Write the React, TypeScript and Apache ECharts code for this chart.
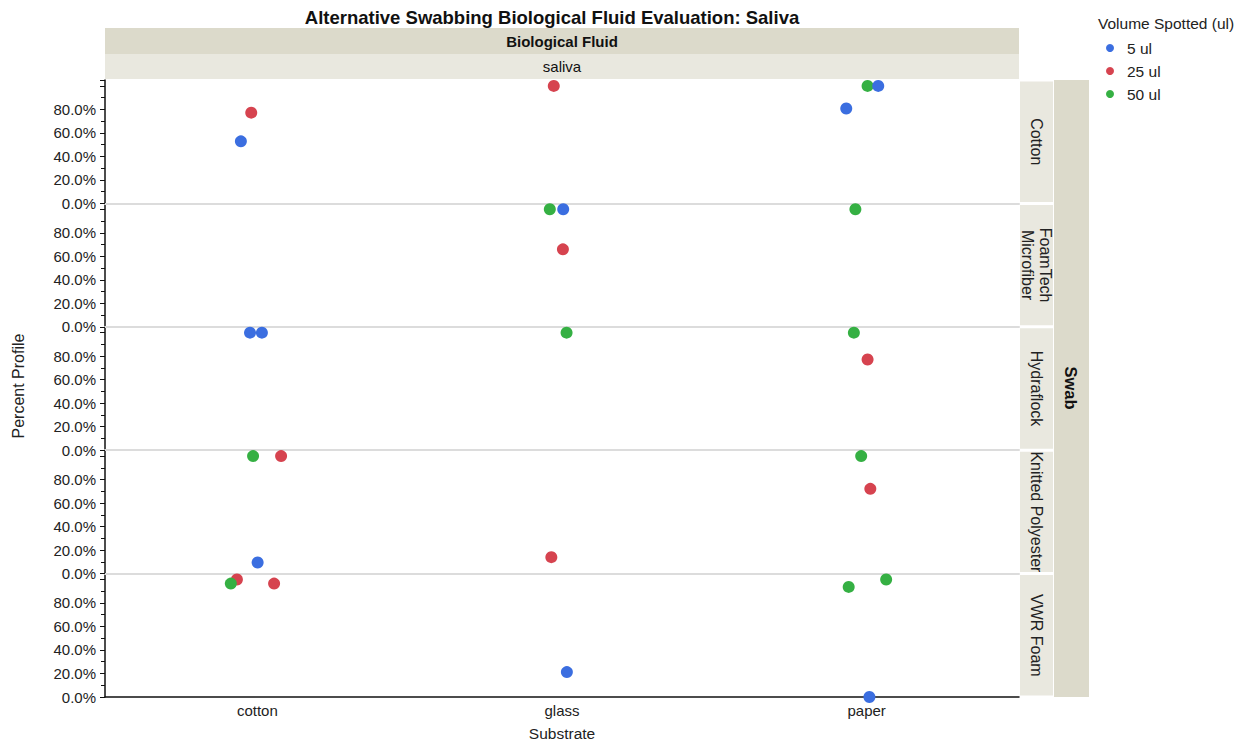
import React, { useEffect, useRef } from "react";
import * as echarts from "echarts";

const chartTitle = "Alternative Swabbing Biological Fluid Evaluation: Saliva";
const substrates = ["cotton", "glass", "paper"];
const swabs = ["Cotton", "FoamTech\nMicrofiber", "Hydraflock", "Knitted Polyester", "VWR Foam"];
const volumes = ["5 ul", "25 ul", "50 ul"];
const yTicks = [0, 0.2, 0.4, 0.6, 0.8];

// [swab index, substrate index, percent profile (0-1), horizontal jitter]
const vol5: number[][] = [
  [0, 0, 0.528, -0.054],
  [0, 2, 0.808, -0.067],
  [0, 2, 1.0, 0.038],
  [1, 1, 1.0, 0.004],
  [2, 0, 1.0, -0.024],
  [2, 0, 1.0, 0.015],
  [3, 0, 0.095, 0.001],
  [4, 1, 0.212, 0.016],
  [4, 2, 0.0, 0.009],
];
const vol25: number[][] = [
  [0, 0, 0.772, -0.02],
  [0, 1, 1.0, -0.027],
  [1, 1, 0.659, 0.003],
  [2, 2, 0.772, 0.003],
  [3, 0, 1.0, 0.078],
  [3, 1, 0.14, -0.035],
  [3, 2, 0.721, 0.012],
  [4, 0, 1.0, -0.067],
  [4, 0, 0.965, 0.055],
];
const vol50: number[][] = [
  [0, 2, 1.0, 0.003],
  [1, 1, 1.0, -0.04],
  [1, 2, 1.0, -0.037],
  [2, 1, 1.0, 0.015],
  [2, 2, 1.0, -0.042],
  [3, 0, 1.0, -0.014],
  [3, 2, 1.0, -0.018],
  [4, 0, 0.965, -0.087],
  [4, 2, 0.937, -0.059],
  [4, 2, 1.0, 0.064],
];
const volumeData = [vol5, vol25, vol50];
const colors = ["#3b6ee0", "#d6434f", "#35b043"];
const zOrder = [4, 2, 3];

const FONT = "'Liberation Sans', Arial, sans-serif";

export default function App() {
  const ref = useRef<HTMLDivElement>(null);
  useEffect(() => {
    document.body.style.margin = "0";
    const chart = echarts.init(ref.current!, null, { renderer: "svg" });
    const left = 105, right = 1019, top = 80, bottom = 697;
    const n = swabs.length;
    const ph = (bottom - top) / n;
    const grids: any[] = [], xAxes: any[] = [], yAxes: any[] = [], series: any[] = [];
    const graphics: any[] = [];
    for (let i = 0; i < n; i++) {
      const isLast = i === n - 1;
      grids.push({ left, top: top + i * ph, width: right - left, height: ph });
      xAxes.push({
        type: "value", gridIndex: i, min: -0.5, max: 2.5, interval: 0.5,
        splitLine: { show: false },
        axisTick: { show: false },
        axisLine: { show: true, onZero: false, lineStyle: { color: isLast ? "#111" : "#dcdcdc", width: isLast ? 1.5 : 2 } },
        axisLabel: {
          show: isLast, fontFamily: FONT, fontSize: 15, color: "#222", margin: 6,
          formatter: (v: number) => (Number.isInteger(v) && v >= 0 && v < substrates.length ? substrates[v] : ""),
        },
        name: isLast ? "Substrate" : "", nameLocation: "middle", nameGap: 28,
        nameTextStyle: { fontFamily: FONT, fontSize: 15.5, color: "#222" },
      });
      yAxes.push({
        type: "value", gridIndex: i, min: 0, max: 1.05, interval: 0.2,
        splitLine: { show: false },
        axisLine: { show: true, onZero: false, lineStyle: { color: "#111", width: 1.5 } },
        axisTick: { show: true, length: 5, lineStyle: { color: "#111" } },
        minorTick: { show: true, splitNumber: 2, length: 4, lineStyle: { color: "#111" } },
        axisLabel: {
          fontFamily: FONT, fontSize: 15, color: "#222", margin: 9,
          showMaxLabel: false,
          formatter: (v: number) => (yTicks.some((t) => Math.abs(t - v) < 1e-6) ? (Math.round(v * 1000) / 10).toFixed(1) + "%" : ""),
        },
      });
      for (let k = 0; k < volumes.length; k++) {
        series.push({
          type: "scatter", name: volumes[k], xAxisIndex: i, yAxisIndex: i,
          symbolSize: 12, z: zOrder[k],
          itemStyle: { color: colors[k], opacity: 1 },
          data: volumeData[k].filter((d) => d[0] === i).map((d) => [d[1] + d[3], d[2]]),
        });
      }
      graphics.push({
        type: "rect", shape: { x: 1020, y: top + i * ph + 1.5, width: 33, height: ph - 3 },
        style: { fill: "#e9e8df" }, silent: true,
      });
      graphics.push({
        type: "text", x: 1036.5, y: top + i * ph + ph / 2, rotation: -Math.PI / 2,
        style: { text: swabs[i], fontFamily: FONT, fontSize: 16, fill: "#222", textAlign: "center", textVerticalAlign: "middle", lineHeight: 18 },
        silent: true,
      });
    }
    graphics.push(
      { type: "text", x: 552, y: 17, style: { text: chartTitle, fontFamily: FONT, fontSize: 18.5, fontWeight: "bold", fill: "#111", textAlign: "center", textVerticalAlign: "middle" } },
      { type: "rect", shape: { x: 105, y: 28, width: 914, height: 26 }, style: { fill: "#dcdacb" } },
      { type: "text", x: 562, y: 41, style: { text: "Biological Fluid", fontFamily: FONT, fontSize: 15, fontWeight: "bold", fill: "#111", textAlign: "center", textVerticalAlign: "middle" } },
      { type: "rect", shape: { x: 105, y: 54, width: 914, height: 25 }, style: { fill: "#e9e8df" } },
      { type: "text", x: 562, y: 66, style: { text: "saliva", fontFamily: FONT, fontSize: 15, fill: "#111", textAlign: "center", textVerticalAlign: "middle" } },
      { type: "rect", shape: { x: 1054, y: 80, width: 35, height: 617 }, style: { fill: "#dcdacb" } },
      { type: "text", x: 1071, y: 388, rotation: -Math.PI / 2, style: { text: "Swab", fontFamily: FONT, fontSize: 16.5, fontWeight: "bold", fill: "#111", textAlign: "center", textVerticalAlign: "middle" } },
      { type: "text", x: 18, y: 386, rotation: Math.PI / 2, style: { text: "Percent Profile", fontFamily: FONT, fontSize: 16, fill: "#222", textAlign: "center", textVerticalAlign: "middle" } },
      { type: "text", x: 1098, y: 23, style: { text: "Volume Spotted (ul)", fontFamily: FONT, fontSize: 15.5, fill: "#222", textAlign: "left", textVerticalAlign: "middle" } },
    );
    chart.setOption({
      animation: false,
      backgroundColor: "#fff",
      grid: grids,
      xAxis: xAxes,
      yAxis: yAxes,
      series,
      legend: {
        data: volumes, orient: "vertical", left: 1101, top: 35, itemGap: 7,
        icon: "circle", itemWidth: 16, itemHeight: 8,
        textStyle: { fontFamily: FONT, fontSize: 15.5, color: "#222", padding: [0, 0, 0, 4] },
      },
      graphic: graphics,
    });
    return () => chart.dispose();
  }, []);
  return <div ref={ref} style={{ width: 1247, height: 744 }} />;
}
